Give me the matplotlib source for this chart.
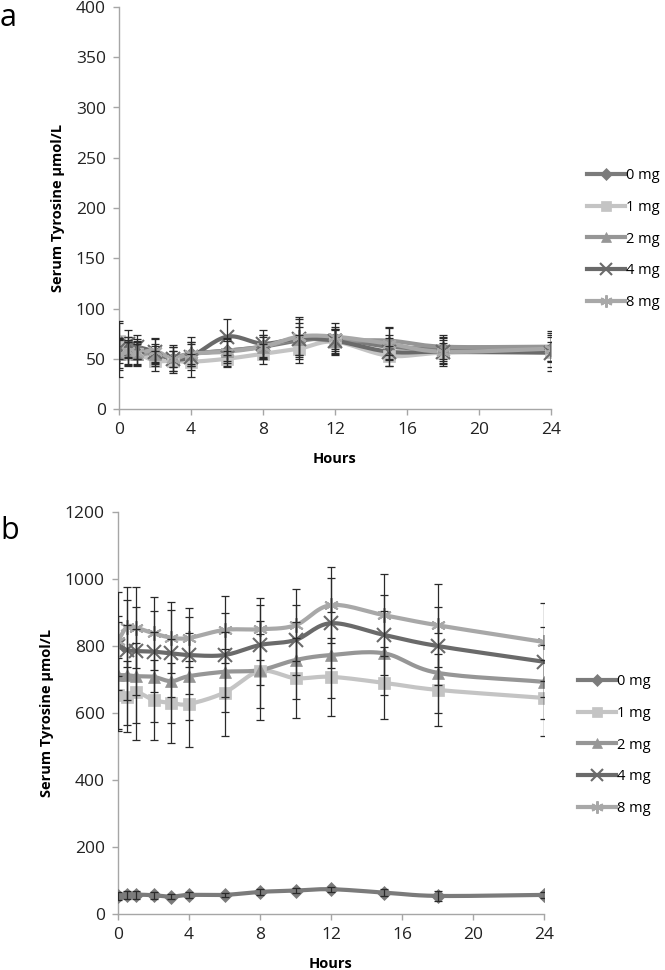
import numpy as np
import matplotlib
matplotlib.use("Agg")
from matplotlib import pyplot as plt
from matplotlib.lines import Line2D

plt.rcParams['font.family'] = ['Open Sans', 'DejaVu Sans']

hours = [0, 0.5, 1, 2, 3, 4, 6, 8, 10, 12, 15, 18, 24]
doses = ["0 mg", "1 mg", "2 mg", "4 mg", "8 mg"]

# panel a: serum tyrosine, umol/L
a_0mg = [58, 62, 60, 55, 50, 55, 58, 62, 68, 70, 62, 60, 60]
a_1mg = [68, 55, 55, 48, 48, 47, 50, 55, 60, 67, 53, 56, 57]
a_2mg = [55, 57, 55, 55, 52, 55, 58, 62, 70, 68, 68, 62, 62]
a_4mg = [60, 65, 62, 57, 50, 52, 72, 65, 70, 68, 57, 57, 56]
a_8mg = [55, 58, 56, 58, 50, 55, 57, 62, 72, 72, 65, 57, 60]

a_sd_0mg = [12, 10, 10, 8, 8, 10, 10, 10, 14, 10, 12, 12, 12]
a_sd_1mg = [18, 12, 10, 10, 10, 8, 8, 10, 14, 12, 10, 10, 10]
a_sd_2mg = [14, 12, 12, 10, 10, 12, 12, 12, 16, 12, 14, 12, 14]
a_sd_4mg = [28, 14, 12, 14, 14, 20, 18, 14, 20, 14, 14, 14, 18]
a_sd_8mg = [16, 14, 12, 12, 12, 12, 14, 12, 20, 14, 16, 12, 18]

# panel b
b_0mg = [55, 57, 58, 56, 52, 57, 57, 66, 70, 74, 64, 54, 57]
b_1mg = [654, 649, 664, 639, 630, 627, 661, 725, 704, 708, 690, 669, 645]
b_2mg = [713, 713, 710, 708, 695, 710, 723, 728, 758, 773, 778, 720, 693]
b_4mg = [800, 788, 785, 783, 778, 773, 773, 803, 818, 868, 833, 800, 753]
b_8mg = [815, 857, 855, 838, 825, 824, 848, 850, 862, 922, 892, 862, 812]

b_sd_0mg = [12, 12, 12, 10, 8, 8, 6, 8, 8, 8, 10, 14, 8]
b_sd_1mg = [109, 105, 145, 119, 120, 127, 131, 110, 119, 116, 108, 108, 114]
b_sd_2mg = [160, 150, 140, 135, 125, 130, 120, 148, 115, 128, 125, 120, 110]
b_sd_4mg = [90, 150, 130, 120, 130, 115, 125, 120, 105, 135, 120, 115, 105]
b_sd_8mg = [145, 119, 120, 109, 105, 88, 100, 92, 108, 114, 123, 124, 116]

colors = ["#7b7b7b", "#c4c4c4", "#969696", "#6a6a6a", "#a8a8a8"]
markers = ["D", "s", "^", "x", (6, 2, 0)]
msizes = [7, 9, 9, 9.5, 10.5]


def smooth(x, y, n=16):
    # catmull-rom path through the points, like excel's smoothed line
    x = np.asarray(x, float)
    y = np.asarray(y, float)
    px = np.concatenate([[2 * x[0] - x[1]], x, [2 * x[-1] - x[-2]]])
    py = np.concatenate([[2 * y[0] - y[1]], y, [2 * y[-1] - y[-2]]])
    t = np.linspace(0, 1, n)
    xs, ys = [], []
    for i in range(1, len(px) - 2):
        for p, out in ((px, xs), (py, ys)):
            p0, p1, p2, p3 = p[i - 1], p[i], p[i + 1], p[i + 2]
            out.extend(0.5 * ((2 * p1) + (-p0 + p2) * t
                              + (2 * p0 - 5 * p1 + 4 * p2 - p3) * t ** 2
                              + (-p0 + 3 * p1 - 3 * p2 + p3) * t ** 3))
    return xs, ys


def draw_panel(ax, series, sds, ymax, ystep, legend_pos):
    for k, (vals, sd) in enumerate(zip(series, sds)):
        sx, sy = smooth(hours, vals)
        ax.plot(sx, sy, color=colors[k], linewidth=3, zorder=2,
                solid_capstyle="round")
        ax.plot(hours, vals, linestyle="none", marker=markers[k],
                markersize=msizes[k], color=colors[k],
                markeredgewidth=1.5 if k >= 3 else 0.5, zorder=3)
        ax.errorbar(hours, vals, yerr=sd, fmt="none", ecolor="#2a2a2a",
                    elinewidth=0.9, capsize=3.2, capthick=0.9, zorder=4)
    ax.set_xlim(0, 24)
    ax.set_ylim(0, ymax)
    ax.set_xticks(range(0, 25, 4))
    ax.set_yticks(np.arange(0, ymax + 1, ystep))
    for side in ("top", "right"):
        ax.spines[side].set_visible(False)
    for side in ("left", "bottom"):
        ax.spines[side].set_color("#a6a6a6")
        ax.spines[side].set_linewidth(1.0)
    ax.tick_params(axis="both", direction="out", length=4.5, width=1.0,
                   color="#a6a6a6", labelsize=12.5, labelcolor="#222222")
    ax.tick_params(axis="x", pad=5)
    ax.tick_params(axis="y", pad=5)
    ax.set_xlabel("Hours", fontsize=10.5, fontweight="bold", labelpad=10)
    ax.set_ylabel("Serum Tyrosine µmol/L", fontsize=10.5, fontweight="bold",
                  labelpad=8)
    handles = [Line2D([], [], color=colors[k], linewidth=3, marker=markers[k],
                      markersize=msizes[k] * 0.85,
                      markeredgewidth=1.5 if k >= 3 else 0.5)
               for k in range(5)]
    ax.legend(handles, doses, loc="upper left", bbox_to_anchor=legend_pos,
              bbox_transform=ax.figure.transFigure, frameon=False,
              fontsize=10.5, handlelength=2.6, handletextpad=0.1,
              labelspacing=1.15, borderpad=0, borderaxespad=0)


px = 1 / 100
fig = plt.figure(figsize=(665 * px, 970 * px), dpi=100)
ax_a = fig.add_axes([119 / 665, 1 - 409 / 970, (551 - 119) / 665, 402 / 970])
ax_b = fig.add_axes([118 / 665, 1 - 914 / 970, (544 - 118) / 665, 402 / 970])

draw_panel(ax_a, [a_0mg, a_1mg, a_2mg, a_4mg, a_8mg],
           [a_sd_0mg, a_sd_1mg, a_sd_2mg, a_sd_4mg, a_sd_8mg],
           400, 50, (587 / 665, 1 - 168 / 970))
draw_panel(ax_b, [b_0mg, b_1mg, b_2mg, b_4mg, b_8mg],
           [b_sd_0mg, b_sd_1mg, b_sd_2mg, b_sd_4mg, b_sd_8mg],
           1200, 200, (578 / 665, 1 - 674 / 970))

fig.text(0, 1 - 18 / 970, "a", fontsize=22, va="center", ha="left")
fig.text(0, 1 - 531 / 970, "b", fontsize=22, va="center", ha="left")

fig.savefig("out.png", dpi=100)
